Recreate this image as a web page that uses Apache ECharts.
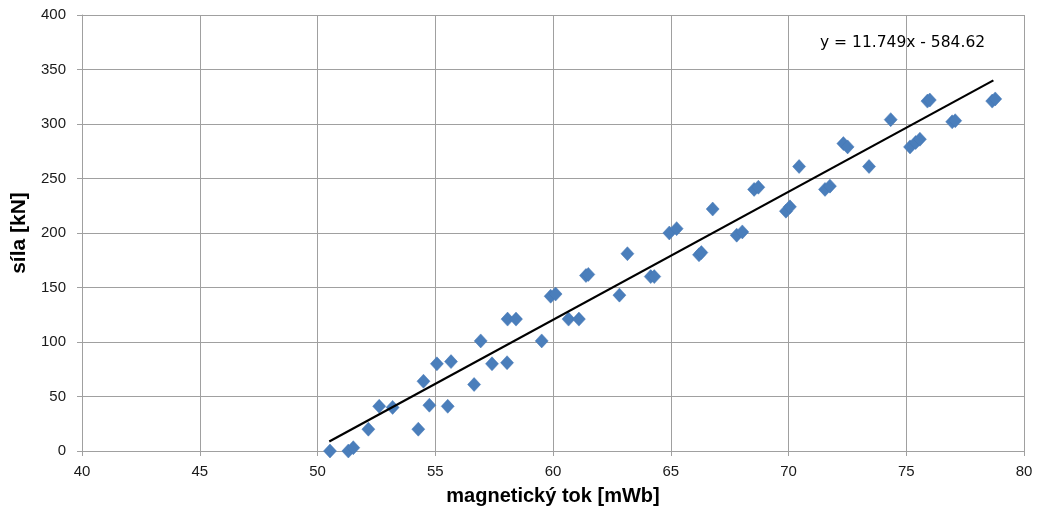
<!DOCTYPE html>
<html>
<head>
<meta charset="utf-8">
<script src="https://cdn.jsdelivr.net/npm/echarts@6/dist/echarts.min.js"></script>
<style>html,body{margin:0;padding:0;background:#fff}#c{width:1039px;height:513px}</style>
</head>
<body>
<div id="c"></div>
<script>
// magnetický tok [mWb]
const fluxValues = [
  50.53, 51.31, 51.52, 52.16, 52.62, 53.19, 54.28, 54.50, 54.75, 55.07,
  55.53, 55.67, 56.65, 56.93, 57.41, 58.05, 58.07, 58.43, 59.52, 59.90,
  60.11, 60.66, 61.10, 61.40, 61.50, 62.82, 63.16, 64.15, 64.30, 64.94,
  65.25, 66.20, 66.30, 66.78, 67.80, 68.04, 68.54, 68.72, 69.89, 70.06,
  70.45, 71.55, 71.76, 72.33, 72.51, 73.42, 74.34, 75.16, 75.40, 75.58,
  75.90, 76.00, 76.95, 77.08, 78.65, 78.78
];
// síla [kN]
const forceValues = [
  0, 0, 3, 20, 41, 40, 20, 64, 42, 80,
  41, 82, 61, 101, 80, 81, 121, 121, 101, 142,
  144, 121, 121, 161, 162, 143, 181, 160, 160, 200,
  204, 180, 182, 222, 198, 201, 240, 242, 220, 224,
  261, 240, 243, 282, 279, 261, 304, 279, 283, 286,
  321, 322, 302, 303, 321, 323
];
// trendline endpoints
const trendX = [50.5, 78.7];
const trendY = [8.7, 340.0];
const equationText = 'y = 11.749x - 584.62';

const xTicks = { min: 40, max: 80, interval: 5 };
const yTicks = { min: 0, max: 400, interval: 50 };

const points = fluxValues.map((x, i) => [x, forceValues[i]]);
const trend = trendX.map((x, i) => [x, trendY[i]]);

const chart = echarts.init(document.getElementById('c'), null, { renderer: 'canvas' });
const font = '"Liberation Sans", Arial, sans-serif';
chart.setOption({
  animation: false,
  backgroundColor: '#ffffff',
  grid: { left: 82, right: 15, top: 15, bottom: 62, containLabel: false },
  xAxis: {
    type: 'value', min: xTicks.min, max: xTicks.max, interval: xTicks.interval,
    name: 'magnetický tok [mWb]', nameLocation: 'middle', nameGap: 35,
    nameTextStyle: { fontFamily: font, fontSize: 20, fontWeight: 'bold', color: '#000' },
    axisLine: { show: true, lineStyle: { color: '#a0a0a0', width: 1 } },
    axisTick: { show: true, length: 5, lineStyle: { color: '#a0a0a0' } },
    axisLabel: { fontFamily: font, fontSize: 15, color: '#1a1a1a', margin: 13 },
    splitLine: { show: true, lineStyle: { color: '#a0a0a0', width: 1 } }
  },
  yAxis: {
    type: 'value', min: yTicks.min, max: yTicks.max, interval: yTicks.interval,
    name: 'síla [kN]', nameLocation: 'middle', nameGap: 47, nameRotate: 90,
    nameTextStyle: { fontFamily: font, fontSize: 21, fontWeight: 'bold', color: '#000' },
    axisLine: { show: true, lineStyle: { color: '#a0a0a0', width: 1 } },
    axisTick: { show: true, length: 5, lineStyle: { color: '#a0a0a0' } },
    axisLabel: { fontFamily: font, fontSize: 15, color: '#1a1a1a', margin: 16 },
    splitLine: { show: true, lineStyle: { color: '#a0a0a0', width: 1 } }
  },
  series: [
    {
      type: 'scatter', data: points, symbol: 'diamond', symbolSize: [13, 14],
      itemStyle: { color: '#4a7ebb', borderColor: '#4577b5', borderWidth: 0.5, opacity: 1 },
      z: 3
    },
    {
      type: 'line', data: trend, symbol: 'none', silent: true,
      lineStyle: { color: '#000', width: 2.2 }, z: 4
    }
  ],
  graphic: [{
    type: 'text', left: 820, top: 35,
    style: { text: equationText, font: '15.5px "DejaVu Sans", sans-serif', fill: '#000' }
  }]
});
</script>
</body>
</html>
